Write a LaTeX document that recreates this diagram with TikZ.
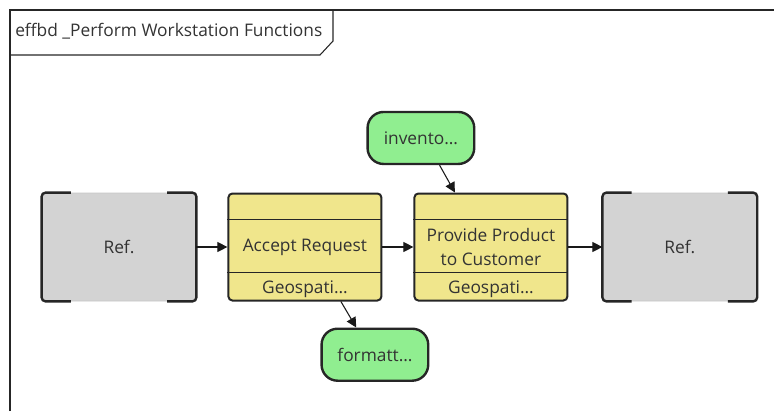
\documentclass[tikz,border=0pt]{standalone}
\usepackage{fontspec}
\setmainfont{Open Sans}
\usetikzlibrary{arrows.meta,positioning}
\definecolor{fnyellow}{HTML}{F0E68C}
\definecolor{itemgreen}{HTML}{90EE90}
\definecolor{refgray}{HTML}{D3D3D3}
\definecolor{txtgray}{HTML}{333333}
\tikzset{
  refblk/.style={draw=gray!45, fill=refgray, rectangle, rounded corners=3pt, minimum height=81pt, minimum width=115.5pt, align=center, font=\fontsize{13}{18}\selectfont, text=txtgray, line width=0.6pt},
  refcorner/.style={line width=1.8pt, draw=black!85, rounded corners=3pt},
  fnblk/.style={draw=black!85, fill=fnyellow, rectangle, rounded corners=3pt, minimum height=80.25pt, minimum width=114.75pt, align=center, font=\fontsize{13}{18}\selectfont, text=txtgray, line width=1.5pt},
  fnline/.style={line width=1.1pt, draw=black!85},
  fnres/.style={font=\fontsize{13}{16}\selectfont, text=txtgray, inner sep=0pt},
  item/.style={draw=black!85, fill=itemgreen, rectangle, rounded corners=12pt, minimum height=39pt, minimum width=80pt, align=center, font=\fontsize{13}{16}\selectfont, text=txtgray, line width=1.8pt},
  arr/.style={-{Triangle[length=7.5pt,width=7.5pt]}, line width=0.8pt, draw=black!90},
}

\begin{document}
\begin{tikzpicture}[x=0.75pt, y=-0.75pt]

\useasboundingbox (0,0) rectangle (774,411);

% frame and title tab
\draw[line width=1.5pt, black!85] (10,411) -- (10,10) -- (774,10);
\node[anchor=west, font=\fontsize{13}{16}\selectfont, text=txtgray, inner sep=0pt] (title) at (15,31) {effbd \_Perform Workstation Functions};
\draw[line width=0.8pt, black!85] (10,55) -- (320,55) -- (333,41) -- (333,10);

\node[refblk] (ref1) at (119,247) {Ref.};
\node[fnblk, right=23.25pt of ref1] (accept) {Accept Request};
\node[fnblk, right=23.25pt of accept] (provide) {Provide Product\\to Customer};
\node[refblk, right=25.5pt of provide] (ref2) {Ref.};

\node[item, above=20.5pt of provide, xshift=-52.5pt] (invento) {invento\ldots};
\node[item, below=19.5pt of accept, xshift=52.5pt] (formatt) {formatt\ldots};

\foreach \r in {ref1,ref2} {
  \draw[refcorner] ([xshift=22pt]\r.north west) -- (\r.north west) -- (\r.south west) -- ([xshift=22pt]\r.south west);
  \draw[refcorner] ([xshift=-22pt]\r.north east) -- (\r.north east) -- (\r.south east) -- ([xshift=-22pt]\r.south east);
}

\foreach \f in {accept,provide} {
  \draw[fnline] ([yshift=-20.25pt]\f.north west) -- ([yshift=-20.25pt]\f.north east);
  \draw[fnline] ([yshift=21.75pt]\f.south west) -- ([yshift=21.75pt]\f.south east);
  \node[fnres] (\f-geo) at ([yshift=9.5pt]\f.south) {Geospati\ldots};
}

\draw[arr] (ref1) -- (accept);
\draw[arr] (accept) -- (provide);
\draw[arr] (provide) -- (ref2);
\draw[arr] ([xshift=14pt]invento.south) -- ([xshift=-27pt]provide.north);
\draw[arr] ([xshift=27pt]accept.south) -- ([xshift=-14pt]formatt.north);

\end{tikzpicture}
\end{document}
